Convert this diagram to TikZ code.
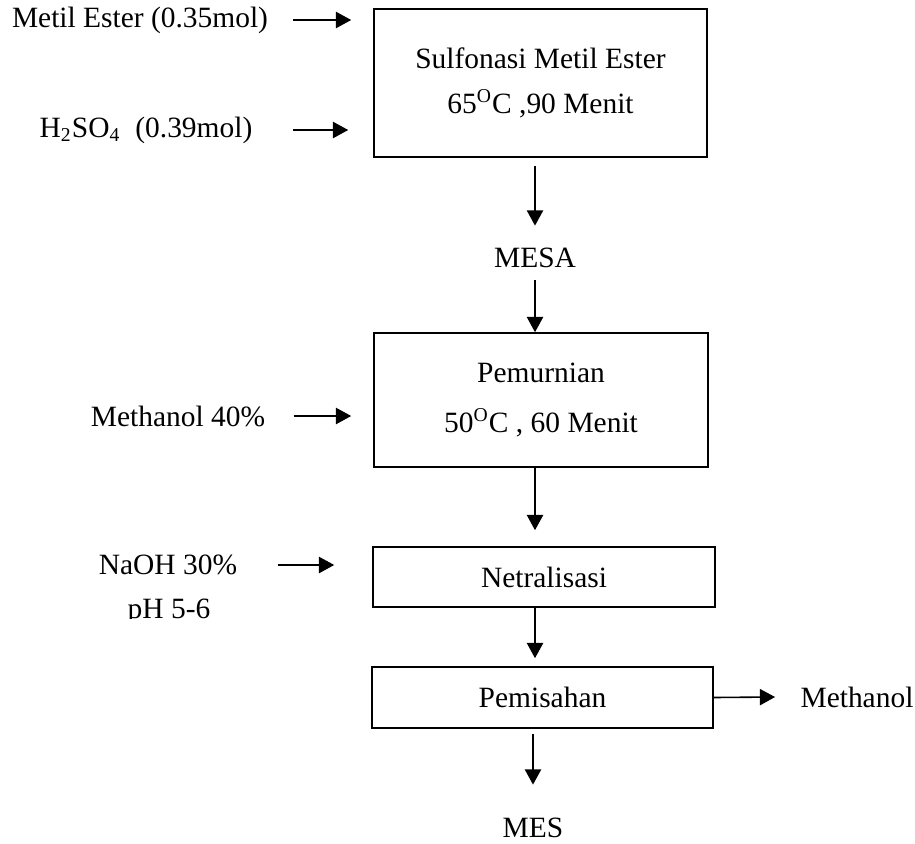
\documentclass[tikz,border=0pt]{standalone}
\usepackage{fontspec}
\setmainfont{Liberation Serif}
\usepackage{tikz}
\usetikzlibrary{arrows.meta,positioning,calc}
\newdimen\pxu
\pxu=0.4075pt

\begin{document}
\begin{tikzpicture}[
    x=0.4075pt, y=-0.4075pt,
    every node/.style={font=\fontsize{12}{14.4}\selectfont},
    proc/.style={draw, rectangle, line width=0.65pt, align=center, inner sep=0pt},
    stream/.style={inner sep=0pt, align=center},
    flow/.style={-{Triangle[length=6.2pt, width=6.6pt]}, line width=0.65pt}
]
\useasboundingbox (0,0) rectangle (915,843);

% --- processes ---
\node[proc, minimum width=333\pxu, minimum height=148\pxu] (sulf) at (540.5,83)
    {Sulfonasi Metil Ester\\[4pt]65\textsuperscript{O}C ,90 Menit};
\node[stream] (mesa) at (535,258) {MESA};
\node[proc, minimum width=334\pxu, minimum height=134\pxu] (pemur) at (541,400)
    {Pemurnian\\[6pt]50\textsuperscript{O}C , 60 Menit};
\node[proc, minimum width=342\pxu, minimum height=60\pxu] (netral) at (544,577) {Netralisasi};
\node[proc, minimum width=341\pxu, minimum height=61\pxu] (pemis) at (542.5,697.5) {Pemisahan};
\node[stream] (mes) at (533,828) {MES};

% --- feeds ---
\node[stream] (metil) at (140,20) {Metil Ester (0.35mol)};
\node[stream] (asam) at (146,130) {H\textsubscript{2}SO\textsubscript{4}~~(0.39mol)};
\node[stream] (meoh) at (178,416) {Methanol 40\%};
\node[stream] (naoh) at (168,565) {NaOH 30\%};
\begin{scope}
  \clip (0,0) rectangle (915,618);
  \node[stream] (ph) at (169,612) {pH 5-6};
\end{scope}
\node[stream] (meout) at (857,697) {Methanol};

% --- side arrows ---
\draw[flow] ([xshift=25\pxu]metil.east) -- ([xshift=-22\pxu]metil.east -| sulf.west);
\draw[flow] ([xshift=40\pxu]asam.east) -- ([xshift=-25\pxu]asam.east -| sulf.west);
\draw[flow] ([xshift=28\pxu]meoh.east) -- ([xshift=-22\pxu]meoh.east -| pemur.west);
\draw[flow] ([xshift=40\pxu]naoh.east) -- ([xshift=-38\pxu]naoh.east -| netral.west);
\draw[flow] (pemis.east) -- ([xshift=-25\pxu]meout.west);

% --- main line ---
\draw[flow] ([yshift=-8\pxu]sulf.south -| mesa) -- ([yshift=22\pxu]mesa.north);
\draw[flow] ([yshift=-12\pxu]mesa.south) -- (mesa |- pemur.north);
\draw[flow] (pemur.south -| mesa) -- ([yshift=16\pxu]netral.north -| mesa);
\draw[flow] (netral.south -| mesa) -- ([yshift=8\pxu]pemis.north -| mesa);
\draw[flow] ([yshift=-5\pxu]pemis.south -| mes) -- ([yshift=33\pxu]mes.north);

\end{tikzpicture}
\end{document}
